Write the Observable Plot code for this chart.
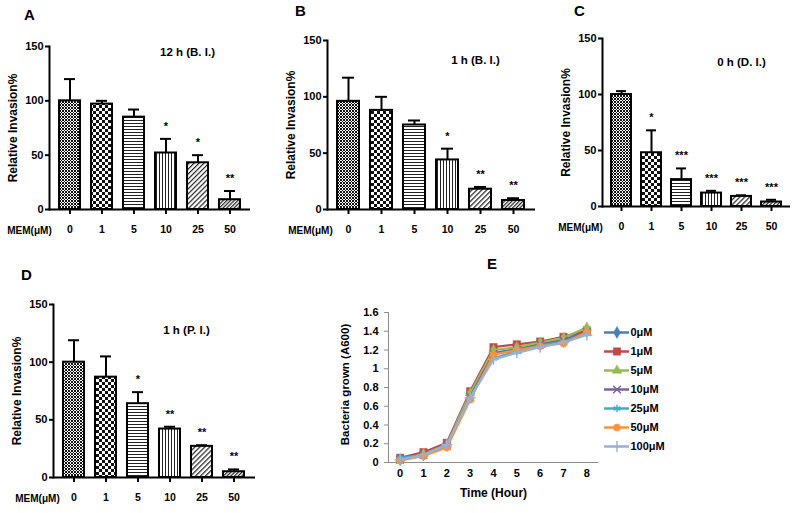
<!DOCTYPE html>
<html><head><meta charset="utf-8">
<script src="https://cdn.jsdelivr.net/npm/d3@7"></script>
<script src="https://cdn.jsdelivr.net/npm/@observablehq/plot@0.6"></script>
<style>
body{margin:0;background:#fff;}
#root{position:relative;width:798px;height:513px;overflow:hidden;background:#fff;font-family:"Liberation Sans",Arial,sans-serif;}
.panel{position:absolute;}
.letter{position:absolute;font-weight:bold;font-size:15px;line-height:15px;color:#000;}
</style></head><body>
<div id="root"></div>
<script>
// ---------- data ----------
const doses = ["0","1","5","10","25","50"];
const invasionA = [100, 97, 85, 52, 43, 9];
const upperA    = [120, 100, 92, 65, 50, 17];
const starsA    = ["", "", "", "*", "*", "**"];
const invasionB = [96, 88, 75, 44, 18, 8];
const upperB    = [117, 100, 79, 54, 20, 10];
const starsB    = ["", "", "", "*", "**", "**"];
const invasionC = [100, 48, 24, 12, 9, 4];
const upperC    = [103, 68, 34, 14, 10, 6];
const starsC    = ["", "*", "***", "***", "***", "***"];
const invasionD = [100, 87, 64, 42, 27, 5];
const upperD    = [119, 105, 74, 44, 28, 7];
const starsD    = ["", "", "*", "**", "**", "**"];
const yTicks = [0, 50, 100, 150];

const hours = [0,1,2,3,4,5,6,7,8];
const seriesNames = ["0μM","1μM","5μM","10μM","25μM","50μM","100μM"];
const seriesColors = ["#4A7EBB","#BE4B48","#98B954","#7D60A0","#46AAC5","#F69240","#94B3D6"];
const seriesSymbols = ["diamond","square","triangle","times","asterisk","circle","plus"];
const growth0   = [0.03, 0.08, 0.18, 0.72, 1.17, 1.21, 1.26, 1.31, 1.40];
const growth1   = [0.05, 0.11, 0.21, 0.76, 1.23, 1.26, 1.29, 1.34, 1.41];
const growth5   = [0.03, 0.09, 0.19, 0.74, 1.20, 1.23, 1.28, 1.33, 1.44];
const growth10  = [0.03, 0.08, 0.18, 0.70, 1.16, 1.20, 1.26, 1.30, 1.39];
const growth25  = [0.05, 0.08, 0.19, 0.70, 1.11, 1.19, 1.25, 1.29, 1.38];
const growth50  = [0.02, 0.07, 0.16, 0.67, 1.15, 1.20, 1.24, 1.27, 1.39];
const growth100 = [0.03, 0.08, 0.19, 0.69, 1.10, 1.17, 1.23, 1.28, 1.36];
const growthSeries = [growth0, growth1, growth5, growth10, growth25, growth50, growth100];

// ---------- setup ----------
const root = document.getElementById("root");
root.insertAdjacentHTML("beforeend", `<svg width="0" height="0" style="position:absolute;left:0;top:0">
<defs>
<pattern id="pat0" width="3" height="3" patternUnits="userSpaceOnUse"><rect width="3" height="3" fill="#fff"/><rect width="1" height="1" fill="#111"/><rect x="1" y="1" width="1" height="1" fill="#111"/><rect x="2" y="2" width="1" height="1" fill="#111"/><rect x="2" y="0" width="1" height="1" fill="#111"/><rect x="0" y="2" width="1" height="1" fill="#111"/></pattern>
<pattern id="pat1" width="6" height="6" patternUnits="userSpaceOnUse"><rect width="6" height="6" fill="#fff"/><rect width="3" height="3" fill="#111"/><rect x="3" y="3" width="3" height="3" fill="#111"/></pattern>
<pattern id="pat2" width="4" height="3" patternUnits="userSpaceOnUse"><rect width="4" height="3" fill="#fff"/><rect width="4" height="1" fill="#222"/></pattern>
<pattern id="pat3" width="3" height="4" patternUnits="userSpaceOnUse"><rect width="3" height="4" fill="#fff"/><rect width="1" height="4" fill="#222"/></pattern>
<pattern id="pat4" width="3.5" height="4" patternUnits="userSpaceOnUse" patternTransform="rotate(45)"><rect width="3.5" height="4" fill="#fff"/><rect width="1.2" height="4" fill="#222"/></pattern>
<pattern id="pat5" width="2.6" height="4" patternUnits="userSpaceOnUse" patternTransform="rotate(45)"><rect width="2.6" height="4" fill="#fff"/><rect width="1.2" height="4" fill="#222"/></pattern>
</defs></svg>`);

const font = "'Liberation Sans', Arial, sans-serif";

function place(el, left, top) {
  const d = document.createElement("div");
  d.className = "panel";
  d.style.left = left + "px";
  d.style.top = top + "px";
  d.appendChild(el);
  root.appendChild(d);
}
function letter(t, left, top) {
  const d = document.createElement("div");
  d.className = "letter";
  d.textContent = t;
  d.style.left = left + "px";
  d.style.top = top + "px";
  root.appendChild(d);
}

function barPanel(o) {
  const data = doses.map((d, i) => ({dose: d, v: o.values[i], e: o.upper[i], s: o.stars[i], pat: `url(#pat${i})`}));
  const chart = Plot.plot({
    width: o.width, height: o.height,
    marginLeft: o.mL, marginRight: o.mR, marginTop: o.mT, marginBottom: o.mB,
    style: {fontFamily: font, background: "transparent", overflow: "visible", color: "#000"},
    x: {domain: doses, paddingInner: 0.33, paddingOuter: 0.24},
    y: {domain: [0, 150]},
    marks: [
      Plot.frame({anchor: "left", stroke: "#000", strokeWidth: 2}),
      Plot.ruleX(data, {x: "dose", y1: "v", y2: "e", stroke: "#000", strokeWidth: 2}),
      Plot.tickY(data, {x: "dose", y: "e", stroke: "#000", strokeWidth: 2, insetLeft: 5, insetRight: 5}),
      ...data.map(d => Plot.barY([d], {x: "dose", y: "v", fill: d.pat, stroke: "#000", strokeWidth: 2})),
      Plot.text(data, {x: "dose", y: "e", text: "s", lineAnchor: "bottom", dy: -9, fontSize: 11, fontWeight: "bold"}),
      Plot.ruleY([0], {stroke: "#000", strokeWidth: 2}),
      Plot.axisY({ticks: yTicks, tickSize: 4, tickPadding: 2, stroke: "#000", strokeWidth: 2, label: null, fontSize: 11, fontWeight: "bold"}),
      Plot.axisX({tickSize: 5, tickPadding: 11, stroke: "#000", strokeWidth: 2, label: null, fontSize: 10.5, fontWeight: "bold"}),
      Plot.text(["MEM(μM)"], {text: d => d, frameAnchor: "bottom-left", textAnchor: "middle", lineAnchor: "middle", dx: o.memDx, dy: 21, fontSize: 10, fontWeight: "bold"}),
      Plot.text(["Relative Invasion%"], {text: d => d, frameAnchor: "left", rotate: -90, textAnchor: "middle", lineAnchor: "middle", dx: -36, fontSize: 12, fontWeight: "bold"}),
      Plot.text([o.title], {text: d => d, frameAnchor: "top-left", textAnchor: "middle", lineAnchor: "middle", dx: o.tDx, dy: o.tDy, fontSize: 11.5, fontWeight: "bold"})
    ]
  });
  place(chart, o.left, o.top);
}

barPanel({values: invasionA, upper: upperA, stars: starsA, title: "12 h (B. I.)",
  left: 0, top: 0, width: 260, height: 240, mL: 49, mR: 10, mT: 46, mB: 31, memDx: -20, tDx: 138, tDy: 6});
barPanel({values: invasionB, upper: upperB, stars: starsB, title: "1 h (B. I.)",
  left: 260, top: 0, width: 280, height: 240, mL: 67, mR: 5, mT: 40, mB: 31, memDx: -17, tDx: 148, tDy: 20});
barPanel({values: invasionC, upper: upperC, stars: starsC, title: "0 h (D. I.)",
  left: 540, top: 0, width: 258, height: 240, mL: 62, mR: 8, mT: 38, mB: 34, memDx: -22, tDx: 139, tDy: 24});
barPanel({values: invasionD, upper: upperD, stars: starsD, title: "1 h (P. I.)",
  left: 0, top: 250, width: 270, height: 263, mL: 53, mR: 15, mT: 54, mB: 36, memDx: -16, tDx: 133, tDy: 26});

// ---------- panel E ----------
const growthData = seriesNames.map((name, s) => hours.map((h, i) => ({series: name, hour: h, od: growthSeries[s][i]})));
const filledSymbols = new Set(["diamond","square","triangle","circle"]);
const eMarks = [
  Plot.frame({anchor: "left", stroke: "#8c8c8c", strokeWidth: 1}),
  Plot.ruleY([0], {stroke: "#8c8c8c", strokeWidth: 1}),
  Plot.axisY({ticks: d3.range(0, 1.61, 0.2), tickFormat: d => String(+d.toFixed(1)), tickSize: 4, tickPadding: 6, stroke: "#8c8c8c", label: null, fontSize: 11, fontWeight: "bold"}),
  Plot.axisX({ticks: hours, tickSize: 0, tickPadding: 7, label: null, fontSize: 11, fontWeight: "bold"}),
  Plot.text(["Time (Hour)"], {text: d => d, frameAnchor: "bottom", lineAnchor: "middle", dy: 31, fontSize: 12, fontWeight: "bold"}),
  Plot.text(["Bacteria grown (A600)"], {text: d => d, frameAnchor: "left", rotate: -90, textAnchor: "middle", lineAnchor: "middle", dx: -43, dy: -3, fontSize: 11.5, fontWeight: "bold"})
];
growthData.forEach((rows, s) => {
  const c = seriesColors[s], sym = seriesSymbols[s];
  eMarks.push(Plot.line(rows, {x: "hour", y: "od", stroke: c, strokeWidth: 2.25}));
  eMarks.push(Plot.dot(rows, {x: "hour", y: "od", symbol: () => sym, r: sym === "square" ? 4.2 : 3.6,
    fill: filledSymbols.has(sym) ? c : "none", stroke: c, strokeWidth: filledSymbols.has(sym) ? 0.5 : 1.4}));
});
const chartE = Plot.plot({
  width: 320, height: 263, marginLeft: 98, marginRight: 12, marginTop: 62, marginBottom: 51,
  style: {fontFamily: font, background: "transparent", overflow: "visible", color: "#000"},
  x: {domain: [-0.5, 8.5]},
  y: {domain: [0, 1.6]},
  symbol: {type: "identity"},
  marks: eMarks
});
place(chartE, 290, 250);

// legend for E
const legendData = seriesNames.map((name, s) => ({series: name, color: seriesColors[s], sym: seriesSymbols[s]}));
const legendMarks = [];
legendData.forEach(d => {
  legendMarks.push(Plot.ruleY([d], {y: "series", x1: 0, x2: 1, stroke: d.color, strokeWidth: 2.5}));
  legendMarks.push(Plot.dot([d], {y: "series", x: 0.5, symbol: () => d.sym, r: d.sym === "square" ? 4.2 : 3.6,
    fill: filledSymbols.has(d.sym) ? d.color : "none", stroke: d.color, strokeWidth: filledSymbols.has(d.sym) ? 0.5 : 1.4}));
});
legendMarks.push(Plot.text(legendData, {y: "series", x: 1, text: "series", textAnchor: "start", dx: 1, fontSize: 11, fontWeight: "bold"}));
const legend = Plot.plot({
  width: 200, height: 140, marginLeft: 9, marginRight: 166, marginTop: 10, marginBottom: 13,
  style: {fontFamily: font, background: "transparent", overflow: "visible", color: "#000"},
  x: {domain: [0, 1], axis: null},
  y: {type: "point", domain: seriesNames, padding: 0, axis: null},
  symbol: {type: "identity"},
  marks: legendMarks
});
place(legend, 595, 320);

// panel letters
letter("A", 24, 7);
letter("B", 295, 3);
letter("C", 574, 3);
letter("D", 21, 267);
letter("E", 487, 256);
</script>
</body></html>
